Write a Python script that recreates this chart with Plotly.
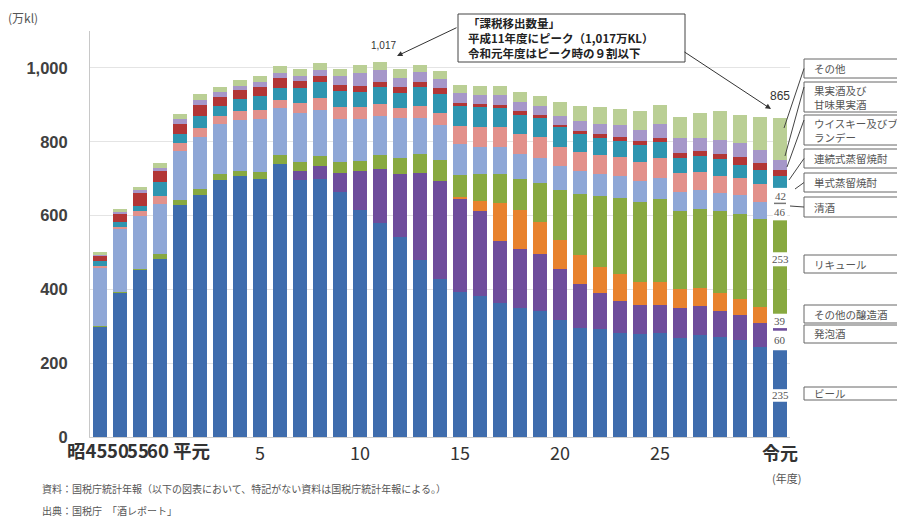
import numpy as np
import plotly.graph_objects as go

# 年度 (categories) and axis tick labels
years = ["昭和45", "昭和50", "昭和55", "昭和60", "平成元"] + [f"平成{i}" for i in range(2, 31)] + ["令和元"]
early_labels = ["昭45", "50", "55", "60", "平元"]
tick_text = [""] * 5 + [str(i) if i % 5 == 0 and i < 30 else "" for i in range(2, 31)] + ["<b>令元</b>"]

# 課税移出数量 by type (万kl)
beer = [299, 392, 453, 483, 629, 656, 697, 706, 699, 740, 697, 700, 665, 616, 580, 541, 480, 428,
        394, 381, 363, 349, 342, 317, 296, 293, 281, 278, 281, 268, 277, 272, 263, 245, 235]
happoshu = [0, 0, 0, 0, 0, 0, 0, 0, 0, 0, 24, 34, 50, 106, 145, 172, 235, 266,
            251, 231, 169, 160, 155, 137, 118, 97, 88, 80, 77, 81, 77, 70, 68, 63, 60]
other_brewed = [0, 0, 0, 0, 0, 0, 0, 0, 0, 0, 0, 0, 0, 0, 0, 0, 0, 0,
                4, 27, 102, 107, 85, 80, 78, 70, 72, 63, 61, 52, 50, 48, 43, 44, 39]
liqueur = [2, 2, 3, 13, 14, 15, 15, 15, 18, 25, 23, 27, 30, 27, 39, 42, 52, 57,
           62, 74, 79, 83, 107, 136, 166, 193, 206, 217, 227, 210, 215, 222, 231, 240, 253]
sake = [157, 170, 142, 136, 133, 142, 136, 139, 145, 126, 134, 126, 117, 113, 105, 109, 97, 95,
        83, 74, 72, 68, 67, 63, 62, 59, 59, 56, 57, 54, 50, 48, 52, 46, 46]
shochu_single = [5, 6, 13, 20, 21, 24, 21, 23, 25, 23, 27, 32, 32, 31, 32, 27, 34, 32,
                 48, 54, 54, 54, 56, 54, 52, 51, 52, 52, 52, 50, 50, 48, 45, 47, 42]
shochu_cont = [15, 13, 15, 39, 24, 33, 27, 32, 38, 32, 41, 43, 43, 43, 46, 42, 50, 52,
               56, 52, 52, 52, 51, 52, 49, 47, 43, 45, 43, 41, 41, 45, 36, 39, 31]
whisky = [14, 22, 36, 29, 27, 30, 24, 24, 23, 27, 18, 15, 16, 14, 16, 16, 14, 16,
          8, 9, 9, 9, 9, 7, 9, 11, 11, 11, 13, 14, 15, 15, 20, 18, 18]
fruit_wine = [2, 4, 7, 9, 14, 14, 14, 12, 14, 14, 14, 18, 24, 36, 30, 24, 27, 25,
              27, 25, 27, 27, 24, 25, 25, 27, 32, 30, 36, 41, 36, 36, 39, 36, 27]
others = [7, 9, 9, 13, 14, 15, 14, 15, 15, 18, 20, 18, 21, 21, 24, 24, 18, 20,
          21, 25, 24, 25, 29, 36, 42, 45, 46, 52, 52, 57, 66, 78, 75, 88, 114]

series = [
    ("ビール", beer, "#3F6DAD"),
    ("発泡酒", happoshu, "#6E4D9C"),
    ("その他の醸造酒", other_brewed, "#E8822E"),
    ("リキュール", liqueur, "#88A940"),
    ("清酒", sake, "#8FA7D6"),
    ("単式蒸留焼酎", shochu_single, "#E2918B"),
    ("連続式蒸留焼酎", shochu_cont, "#2F95B0"),
    ("ウイスキー及びブランデー", whisky, "#B23636"),
    ("果実酒及び甘味果実酒", fruit_wine, "#A697C9"),
    ("その他", others, "#BACF95"),
]

W_PX, H_PX = 897, 520
L, R, T, B = 90, 107, 31, 83
PW, PH = W_PX - L - R, H_PX - T - B


def px_x(p):
    return (p - L) / PW


def px_y(p):
    return (T + PH - p) / PH


JP = "Noto Sans CJK JP"

fig = go.Figure()
for name, vals, color in series:
    fig.add_trace(go.Bar(x=years, y=vals, name=name, marker_color=color,
                         marker_line_width=0))

totals = np.sum([s[1] for s in series], axis=0)
last = len(years) - 1
cum = np.cumsum([s[1][last] for s in series])
seg_lo = np.concatenate([[0], cum[:-1]])
seg_hi = cum

shapes = []
annotations = []

# white label plates on the latest bar
def plate(y0, y1):
    shapes.append(dict(type="rect", xref="x", yref="y", x0=last - 0.36, x1=last + 0.36,
                       y0=y0, y1=y1, fillcolor="white", line_width=0, layer="above"))


def value_label(text, y):
    annotations.append(dict(x=years[last], y=y, xref="x", yref="y", text=text, showarrow=False,
                            font=dict(family="Liberation Serif", size=11, color="#555555")))


beer_mid = (seg_lo[0] + seg_hi[0]) / 2 - 5
plate(beer_mid - 17, beer_mid + 17)
value_label(str(beer[last]), beer_mid)

plate(seg_lo[1], seg_hi[1] - 7)
value_label(str(happoshu[last]), (seg_lo[1] + seg_hi[1] - 7) / 2)
plate(seg_lo[2], seg_hi[2])
value_label(str(other_brewed[last]), (seg_lo[2] + seg_hi[2]) / 2)

liq_mid = (seg_lo[3] + seg_hi[3]) / 2 + 21
plate(liq_mid - 19, liq_mid + 19)
value_label(str(liqueur[last]), liq_mid)

plate(seg_lo[4], seg_hi[5])
shapes.append(dict(type="line", xref="x", yref="y", x0=last - 0.3, x1=last + 0.3,
                   y0=seg_hi[4], y1=seg_hi[4], line=dict(color="#777777", width=1.5), layer="above"))
value_label(str(sake[last]), (seg_lo[4] + seg_hi[4]) / 2)
value_label(str(shochu_single[last]), (seg_lo[5] + seg_hi[5]) / 2)

# totals called out
annotations.append(dict(x=years[last], y=totals[last], text=f"{totals[last]:,}", showarrow=False,
                        yshift=22, font=dict(family="Liberation Sans", size=12, color="#333333")))
peak = int(np.argmax(totals))
annotations.append(dict(x=years[peak], y=totals[peak], text=f"{totals[peak]:,}", showarrow=False,
                        yshift=16, xshift=3, font=dict(family="Liberation Sans", size=10, color="#333333")))

# first five year labels, set side by side under their bars
for label, cx in zip(early_labels, [87, 117.5, 137.5, 157.5, 191]):
    annotations.append(dict(xref="paper", yref="paper", x=px_x(cx), y=px_y(450), xanchor="center",
                            yanchor="middle", showarrow=False, text=f"<b>{label}</b>",
                            font=dict(family=JP, size=18.5, color="#333333")))

# callout box
shapes.append(dict(type="rect", xref="paper", yref="paper", x0=px_x(458), x1=px_x(685),
                   y0=px_y(62), y1=px_y(14), line=dict(color="#444444", width=1), fillcolor="white"))
annotations.append(dict(xref="paper", yref="paper", x=px_x(466), y=px_y(38), xanchor="left",
                        yanchor="middle", align="left", showarrow=False,
                        text="<b>「課税移出数量」<br>平成11年度にピーク（1,017万KL）<br>令和元年度はピーク時の９割以下</b>",
                        font=dict(family=JP, size=11.5, color="#222222")))
annotations.append(dict(xref="paper", yref="paper", x=px_x(397), y=px_y(56), ax=61, ay=-29,
                        text="", showarrow=True, arrowhead=2, arrowsize=1.1, arrowwidth=1,
                        arrowcolor="#333333"))
annotations.append(dict(xref="paper", yref="paper", x=px_x(771), y=px_y(109), ax=-88, ay=-58,
                        text="", showarrow=True, arrowhead=2, arrowsize=1.1, arrowwidth=1,
                        arrowcolor="#333333"))

# right-hand category boxes with leader lines
boxes = [
    ("その他", 59, 78, (784, 128)),
    ("果実酒及び<br>甘味果実酒", 82, 112, (785, 156)),
    ("ウイスキー及びブ<br>ランデー", 115, 145, (787, 167)),
    ("連続式蒸留焼酎", 149, 168, (789, 180)),
    ("単式蒸留焼酎", 173, 192, (795, 189)),
    ("清酒", 197, 217, (790, 206)),
    ("リキュール", 255, 273, None),
    ("その他の醸造酒", 305, 323, None),
    ("発泡酒", 325, 343, None),
    ("ビール", 387, 400, None),
]
for text, top, bot, lead in boxes:
    shapes.append(dict(type="rect", xref="paper", yref="paper", x0=px_x(804), x1=px_x(905),
                       y0=px_y(bot), y1=px_y(top), line=dict(color="#666666", width=1),
                       fillcolor="white"))
    annotations.append(dict(xref="paper", yref="paper", x=px_x(812), y=px_y((top + bot) / 2),
                            xanchor="left", yanchor="middle", align="left", showarrow=False,
                            text=text, font=dict(family=JP, size=10.5, color="#555555")))
    if lead:
        y_start = top + 5 if bot - top > 22 else (top + bot) / 2
        shapes.append(dict(type="line", xref="paper", yref="paper", x0=px_x(804),
                           y0=px_y(y_start), x1=px_x(lead[0]), y1=px_y(lead[1]),
                           line=dict(color="#444444", width=1)))

# unit, year label and sources
annotations.append(dict(xref="paper", yref="paper", x=px_x(6), y=px_y(18), xanchor="left",
                        yanchor="middle", showarrow=False, text="(万kl)",
                        font=dict(family=JP, size=12, color="#555555")))
annotations.append(dict(xref="paper", yref="paper", x=px_x(786), y=px_y(478), xanchor="center",
                        yanchor="middle", showarrow=False, text="(年度)",
                        font=dict(family=JP, size=11, color="#555555")))
annotations.append(dict(xref="paper", yref="paper", x=px_x(40), y=px_y(488), xanchor="left",
                        yanchor="middle", showarrow=False,
                        text="資料：国税庁統計年報（以下の図表において、特記がない資料は国税庁統計年報による。）",
                        font=dict(family=JP, size=10, color="#555555")))
annotations.append(dict(xref="paper", yref="paper", x=px_x(40), y=px_y(511), xanchor="left",
                        yanchor="middle", showarrow=False, text="出典：国税庁　「酒レポート」",
                        font=dict(family=JP, size=10, color="#555555")))

fig.update_layout(
    width=W_PX, height=H_PX,
    margin=dict(l=L, r=R, t=T, b=B, pad=0),
    barmode="stack", bargap=0.33,
    showlegend=False,
    plot_bgcolor="white", paper_bgcolor="white",
    shapes=shapes, annotations=annotations,
    xaxis=dict(type="category", range=[-0.5, len(years) - 0.5], tickmode="array",
               tickvals=years, ticktext=tick_text, tickangle=0, showgrid=False, ticks="",
               showline=True, linecolor="#d0d0d0", linewidth=1,
               tickfont=dict(family=JP, size=18, color="#333333")),
    yaxis=dict(range=[0, 1100], tickmode="array", tickvals=[0, 200, 400, 600, 800, 1000],
               ticktext=["0", "200", "400", "600", "800", "1,000"], showgrid=True,
               gridcolor="#e4e4e4", gridwidth=1, zeroline=False, showline=True,
               linecolor="#c8c8c8", linewidth=1, ticks="", ticklabelstandoff=18,
               tickfont=dict(family="Liberation Sans", size=16.5, color="#404040", weight="bold")),
)

fig.write_html("out.html")
